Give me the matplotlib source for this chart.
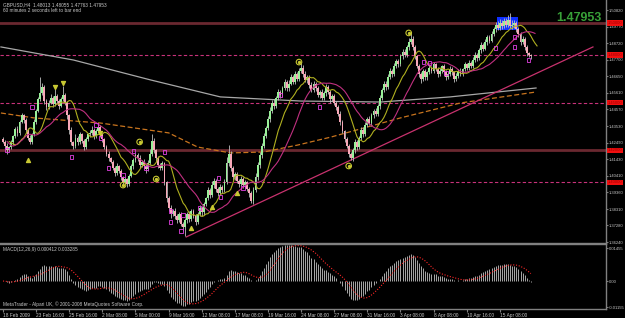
import numpy as np
import pandas as pd
import matplotlib
matplotlib.use("Agg")
import matplotlib.pyplot as plt
from matplotlib.patches import Rectangle
import matplotlib.transforms as mtrans

plt.rcParams['font.family'] = ['Liberation Sans', 'DejaVu Sans']

# ---- price data (GBPUSD H4) ---------------------------------------------
first_open = 1.4270
closes = [
    1.4255, 1.4230, 1.4205, 1.4220, 1.4250, 1.4290, 1.4335, 1.4310, 1.4380, 1.4420, 1.4390, 1.4330, 1.4280, 1.4250, 1.4300, 1.4380,
    1.4450, 1.4520, 1.4560, 1.4600, 1.4510, 1.4470, 1.4500, 1.4530, 1.4490, 1.4540, 1.4510, 1.4480, 1.4520, 1.4550, 1.4500, 1.4420,
    1.4330, 1.4250, 1.4230, 1.4280, 1.4250, 1.4300, 1.4260, 1.4220, 1.4270, 1.4300, 1.4310, 1.4330, 1.4290, 1.4320, 1.4350, 1.4300,
    1.4270, 1.4220, 1.4180, 1.4150, 1.4130, 1.4090, 1.4060, 1.4100, 1.4070, 1.4030, 1.4000, 1.4020, 1.3990, 1.4040, 1.4100, 1.4140,
    1.4170, 1.4150, 1.4110, 1.4130, 1.4100, 1.4080, 1.4120, 1.4180, 1.4260, 1.4200, 1.4150, 1.4110, 1.4090, 1.4120, 1.4000, 1.3900,
    1.3840, 1.3800, 1.3820, 1.3790, 1.3760, 1.3800, 1.3740, 1.3720, 1.3760, 1.3800, 1.3770, 1.3820, 1.3790, 1.3750, 1.3800, 1.3840,
    1.3810, 1.3860, 1.3900, 1.3950, 1.3920, 1.3980, 1.4010, 1.3960, 1.3930, 1.3970, 1.3950, 1.4000, 1.4120, 1.4180, 1.4090, 1.4030,
    1.4050, 1.4010, 1.3990, 1.4020, 1.3980, 1.4000, 1.3960, 1.3930, 1.3880, 1.3950, 1.4030, 1.4110, 1.4170, 1.4230, 1.4290, 1.4340,
    1.4400, 1.4450, 1.4500, 1.4480, 1.4530, 1.4570, 1.4550, 1.4590, 1.4630, 1.4590, 1.4620, 1.4660, 1.4630, 1.4680, 1.4650, 1.4700,
    1.4720, 1.4680, 1.4640, 1.4660, 1.4610, 1.4580, 1.4620, 1.4590, 1.4550, 1.4570, 1.4530, 1.4560, 1.4600, 1.4570, 1.4520, 1.4540,
    1.4500, 1.4470, 1.4430, 1.4380, 1.4320, 1.4270, 1.4230, 1.4180, 1.4150, 1.4200, 1.4250, 1.4220, 1.4280, 1.4330, 1.4300, 1.4360,
    1.4400, 1.4370, 1.4420, 1.4450, 1.4430, 1.4480, 1.4530, 1.4580, 1.4620, 1.4600, 1.4660, 1.4700, 1.4680, 1.4730, 1.4760, 1.4740,
    1.4790, 1.4820, 1.4800, 1.4850, 1.4880, 1.4900, 1.4850, 1.4790, 1.4730, 1.4680, 1.4650, 1.4700, 1.4660, 1.4690, 1.4720, 1.4700,
    1.4740, 1.4710, 1.4680, 1.4700, 1.4730, 1.4690, 1.4660, 1.4680, 1.4710, 1.4690, 1.4650, 1.4670, 1.4700, 1.4680, 1.4710, 1.4740,
    1.4720, 1.4750, 1.4730, 1.4770, 1.4800, 1.4780, 1.4830, 1.4860, 1.4840, 1.4880, 1.4910, 1.4890, 1.4930, 1.4960, 1.4990, 1.4970,
    1.5000, 1.4980, 1.5010, 1.4990, 1.5020, 1.4980, 1.4990, 1.5000, 1.4960, 1.4930, 1.4880, 1.4900, 1.4850, 1.4810, 1.48013, 1.47953,
]
# upper / lower shadow beyond the body, in pips
wick_up = [
    12, 8, 15, 10, 18, 9, 14, 20, 11, 16, 8, 12, 10, 14, 9, 15,
    12, 18, 100, 25, 14, 10, 16, 22, 12, 45, 15, 10, 18, 55, 12, 10,
    10, 14, 8, 20, 12, 16, 10, 9, 15, 12, 18, 25, 11, 14, 20, 12,
    10, 8, 12, 15, 9, 10, 14, 18, 8, 12, 10, 15, 9, 12, 16, 10,
    14, 12, 20, 10, 15, 12, 18, 30, 40, 15, 10, 12, 9, 14, 10, 8,
    12, 15, 10, 18, 9, 14, 10, 12, 16, 11, 20, 14, 10, 12, 15, 18,
    12, 16, 10, 20, 14, 25, 15, 10, 12, 18, 14, 20, 40, 55, 15, 10,
    12, 14, 10, 16, 12, 15, 10, 9, 14, 20, 25, 18, 22, 15, 20, 14,
    18, 22, 15, 20, 14, 18, 12, 16, 20, 14, 22, 18, 12, 20, 15, 18,
    35, 14, 18, 12, 15, 20, 14, 10, 16, 12, 18, 14, 20, 12, 10, 14,
    12, 10, 14, 18, 12, 10, 15, 9, 12, 14, 20, 15, 12, 18, 14, 16,
    12, 18, 14, 10, 16, 12, 20, 15, 18, 14, 22, 16, 12, 20, 15, 14,
    18, 14, 20, 15, 25, 44, 18, 14, 12, 10, 15, 12, 14, 10, 16, 12,
    14, 10, 12, 15, 9, 12, 14, 10, 18, 12, 10, 14, 12, 16, 10, 14,
    12, 16, 10, 14, 18, 12, 15, 20, 14, 18, 12, 16, 20, 15, 18, 22,
    25, 18, 22, 20, 28, 43, 30, 20, 15, 18, 12, 20, 14, 10, 8, 4.2,
]
wick_dn = [
    10, 20, 25, 12, 9, 14, 10, 18, 12, 10, 15, 20, 14, 10, 12, 9,
    14, 10, 12, 15, 20, 18, 12, 10, 15, 12, 14, 18, 10, 12, 15, 20,
    25, 18, 20, 12, 15, 10, 14, 20, 12, 10, 15, 12, 18, 10, 12, 14,
    15, 12, 18, 14, 10, 16, 20, 12, 15, 14, 18, 10, 20, 12, 10, 14,
    12, 15, 18, 12, 14, 20, 10, 12, 15, 18, 14, 20, 16, 12, 20, 25,
    18, 22, 15, 20, 16, 12, 18, 25, 60, 15, 20, 14, 18, 22, 15, 12,
    20, 15, 12, 14, 18, 12, 15, 20, 14, 12, 18, 14, 12, 15, 20, 18,
    15, 18, 20, 12, 16, 14, 18, 20, 10, 15, 12, 14, 20, 15, 12, 14,
    15, 20, 14, 18, 12, 15, 20, 14, 12, 18, 14, 12, 15, 10, 14, 12,
    14, 18, 12, 15, 20, 14, 12, 18, 15, 20, 12, 14, 18, 15, 20, 12,
    14, 18, 15, 20, 12, 18, 14, 20, 12, 15, 14, 18, 12, 15, 14, 12,
    15, 12, 18, 14, 12, 15, 18, 14, 12, 20, 15, 12, 18, 14, 12, 15,
    12, 14, 15, 12, 18, 14, 20, 18, 15, 20, 25, 12, 15, 18, 12, 14,
    15, 12, 18, 14, 12, 20, 15, 12, 14, 18, 22, 12, 15, 14, 12, 10,
    14, 12, 15, 12, 14, 18, 12, 15, 14, 12, 15, 18, 12, 14, 15, 12,
    14, 18, 12, 15, 14, 12, 16, 20, 18, 15, 20, 14, 18, 15, 12, 19,
]

date_ticks = [0, 16, 32, 48, 64, 80, 96, 112, 128, 144, 160, 176, 192, 208, 224, 240]
date_labels = ["18 Feb 2009", "23 Feb 16:00", "25 Feb 16:00", "2 Mar 08:00", "5 Mar 00:00",
               "9 Mar 16:00", "12 Mar 08:00", "17 Mar 08:00", "19 Mar 16:00", "24 Mar 08:00",
               "27 Mar 08:00", "31 Mar 16:00", "3 Apr 08:00", "8 Apr 08:00", "10 Apr 16:00",
               "15 Apr 08:00"]

price_labels = ["1.36240", "1.37280", "1.38310", "1.39360", "1.40410", "1.41430", "1.42490",
                "1.43530", "1.44570", "1.45610", "1.46650", "1.47700", "1.48720", "1.49770",
                "1.50820"]
price_ticks = [float(s) for s in price_labels]

solid_levels = [1.5000, 1.4200]
dashed_levels = [1.4800, 1.4500, 1.4000]

# long moving averages, sampled along the lines (bar index, price)
gray_ma_bars = [-1, 34, 71.5, 105, 144, 182.5, 216, 257.5]
gray_ma_vals = [1.4850, 1.4768, 1.4642, 1.4536, 1.4510, 1.4504, 1.4536, 1.4592]
orange_ma_bars = [-1, 15, 47, 80, 94, 110, 126, 142.5, 158.5, 192, 221, 257.5]
orange_ma_vals = [1.4435, 1.4404, 1.4372, 1.4310, 1.4221, 1.4184, 1.4190, 1.4234, 1.4284,
                  1.4404, 1.4498, 1.4567]

trend_bars = [88.5, 285]
trend_vals = [1.3656, 1.4850]

circle_bars = [66, 74, 58, 143, 167, 196]
circle_vals = [1.4253, 1.4020, 1.3982, 1.4755, 1.4102, 1.4938]
tri_dn_bars = [25, 29, 47]
tri_dn_vals = [1.4598, 1.4623, 1.4309]
tri_up_bars = [12, 91, 101, 113]
tri_up_vals = [1.4140, 1.3712, 1.3844, 1.3930]
square_bars = [2, 14, 33, 45, 47, 51, 58, 63, 69, 78, 81, 81, 86, 87, 95, 104, 105, 116,
               134, 153, 203, 206, 214, 238, 247, 247, 254]
square_vals = [1.4202, 1.4473, 1.4158, 1.4360, 1.4278, 1.4089, 1.4045, 1.4196, 1.4089, 1.4190,
               1.3819, 1.3750, 1.3693, 1.3794, 1.3838, 1.4026, 1.3907, 1.3964,
               1.4548, 1.4473, 1.4755, 1.4749, 1.4686, 1.4843, 1.4913, 1.4850, 1.4768]

box_bars = [238.5, 249]
box_vals = [1.4956, 1.5038]

macd_ticks = [0.01455, 0.0, -0.01155]
macd_labels = ["0.01455", "0.00", "-0.01155"]

# ---- derived series ------------------------------------------------------
c = np.array(closes)
n = len(c)
x = np.arange(n)
o = np.r_[first_open, c[:-1]]
body_lo = np.minimum(o, c)
body_hi = np.maximum(o, c)
hi = body_hi + np.array(wick_up) * 1e-4
lo = body_lo - np.array(wick_dn) * 1e-4
bull = c >= o

s = pd.Series(c)
yellow = s.ewm(span=8, adjust=False).mean().values
magenta = s.rolling(21, min_periods=1).mean().values
macd = (s.ewm(span=12, adjust=False).mean() - s.ewm(span=26, adjust=False).mean())
signal = macd.rolling(9, min_periods=1).mean().values
macd = macd.values

# ---- layout (pixel based: 625 x 318) ------------------------------------
W, H = 625, 318
BG = "black"
GRID = "#808080"
TXT = "#c8c8c8"
SMALL = 3.4
AXFONT = 3.0
fig = plt.figure(figsize=(W / 100, H / 100), dpi=100, facecolor=BG)
ax = fig.add_axes([0, (H - 243) / H, 606 / W, 243 / H], facecolor=BG)
ax2 = fig.add_axes([0, (H - 309) / H, 606 / W, 65 / H], facecolor=BG)

xmin, xmax = -3 / 2.07, 603 / 2.07
for a in (ax, ax2):
    a.set_xlim(xmin, xmax)
    for sp in a.spines.values():
        sp.set_color(GRID)
        sp.set_linewidth(1)
    a.spines["left"].set_visible(False)
ax.spines["top"].set_visible(False)

ax.set_ylim(1.3618, 1.5145)
ax2.set_ylim(-0.01235, 0.01632)

# ---- main panel ----------------------------------------------------------
for lv in solid_levels:
    ax.axhline(lv, color="#6a2830", lw=2.0, zorder=1)
for lv in dashed_levels:
    ax.axhline(lv, color="#c8327a", lw=0.8, ls=(0, (3, 2)), zorder=1)

ax.add_patch(Rectangle((box_bars[0], box_vals[0]), box_bars[1] - box_bars[0],
                       box_vals[1] - box_vals[0], facecolor="#1030ff", edgecolor="none", zorder=2))

ax.plot(gray_ma_bars, gray_ma_vals, color="#a8a8a8", lw=0.9, zorder=2)
ax.plot(orange_ma_bars, orange_ma_vals, color="#c8741e", lw=0.9, ls=(0, (4, 2)), zorder=2)
ax.plot(trend_bars, trend_vals, color="#c8326e", lw=0.9, zorder=2)

ax.vlines(x, lo, hi, color="#c0c0c0", lw=0.6, zorder=3)
hgt = np.maximum(body_hi - body_lo, 0.00012)
ax.bar(x[bull], hgt[bull], bottom=body_lo[bull], width=0.9, color="#98f098", lw=0, zorder=4)
ax.bar(x[~bull], hgt[~bull], bottom=body_lo[~bull], width=0.9, color="#f8a8b8", lw=0, zorder=4)

ax.plot(x + 3, yellow, color="#b0b020", lw=0.8, zorder=5)
ax.plot(x + 2, magenta, color="#c03080", lw=0.8, zorder=5)

ax.scatter(square_bars, square_vals, marker="s", s=6, facecolor="none",
           edgecolor="#e040e0", lw=0.6, zorder=6)
ax.scatter(circle_bars, circle_vals, marker="o", s=16, facecolor="none",
           edgecolor="#c8c832", lw=0.8, zorder=6)
ax.scatter(circle_bars, circle_vals, marker="o", s=2, color="#c8c832", zorder=6)
ax.scatter(tri_dn_bars, tri_dn_vals, marker="v", s=8, color="#c8c832", zorder=6)
ax.scatter(tri_up_bars, tri_up_vals, marker="^", s=8, color="#c8c832", zorder=6)

ax.set_xticks([])
ax.yaxis.tick_right()
ax.set_yticks(price_ticks, price_labels)
ax.tick_params(axis="y", colors=GRID, labelcolor=TXT, labelsize=AXFONT, length=1.5, pad=0.3)

# level markers on the price scale
tr = mtrans.blended_transform_factory(ax.transAxes, ax.transData)
for lv in solid_levels + dashed_levels:
    ax.text(1.003, lv, f"{lv:.5f}", transform=tr, fontsize=AXFONT, color="#a00000",
            ha="left", va="center", clip_on=False, zorder=10,
            bbox=dict(boxstyle="square,pad=0.15", facecolor="#f01010", edgecolor="none"))

ax.text(3 / 606, 1 - 5 / 243, "GBPUSD,H4  1.48013 1.48055 1.47763 1.47953",
        transform=ax.transAxes, fontsize=SMALL, color=TXT, va="center")
ax.text(3 / 606, 1 - 11 / 243, "60 minutes 2 seconds left to bar end",
        transform=ax.transAxes, fontsize=SMALL, color=TXT, va="center")
ax.text(602 / 606, 1 - 18 / 243, "1.47953", transform=ax.transAxes, fontsize=9,
        fontweight="bold", color="#38a038", ha="right", va="center")

# ---- MACD panel ----------------------------------------------------------
ax2.vlines(x, 0, macd, color="#a8a8a8", lw=0.7)
ax2.plot(x, signal, color="#ff2828", lw=0.8, ls=(0, (1, 1.5)))
ax2.yaxis.tick_right()
ax2.set_yticks(macd_ticks, macd_labels)
ax2.tick_params(axis="y", colors=GRID, labelcolor=TXT, labelsize=AXFONT, length=1.5, pad=0.3)
ax2.set_xticks(date_ticks, date_labels)
ax2.tick_params(axis="x", colors=GRID, labelcolor=TXT, labelsize=SMALL, length=2, pad=1)
for lab in ax2.get_xticklabels():
    lab.set_ha("left")

ax2.text(3 / 606, (309 - 249) / 65, "MACD(12,26,9) 0.000412 0.003285",
         transform=ax2.transAxes, fontsize=SMALL, color=TXT, va="center")
ax2.text(3 / 606, (309 - 304) / 65,
         "MetaTrader - Alpari UK, \u00a9 2001-2008 MetaQuotes Software Corp.",
         transform=ax2.transAxes, fontsize=SMALL, color=TXT, va="center")

fig.savefig("out.png", dpi=100, facecolor=BG)
